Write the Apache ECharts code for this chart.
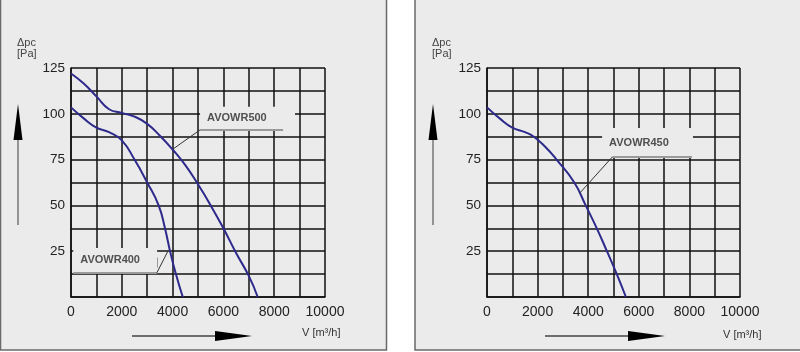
<!DOCTYPE html>
<html>
<head>
<meta charset="utf-8">
<script src="https://cdn.jsdelivr.net/npm/echarts@6/dist/echarts.min.js"></script>
<style>
  html, body { margin: 0; padding: 0; background: #fff; }
  #main { width: 800px; height: 352px; }
</style>
</head>
<body>
<div id="main"></div>
<script>
// fan curves: V [m3/h] -> dpc [Pa]
const fan500Flow = [0, 500, 1000, 1500, 2000, 2500, 3000, 3500, 4000, 4500, 5000, 5500, 6000, 6500, 7000, 7350];
const fan500Pressure = [122, 116.5, 109.5, 102.5, 100.5, 98.5, 94.5, 88, 80.5, 72, 61.5, 50, 37.5, 24, 11.5, 0];

const fan400Flow = [0, 500, 1000, 1500, 2000, 2500, 3000, 3450, 3700, 3900, 4130, 4400];
const fan400Pressure = [103.5, 97.5, 92.5, 90, 85.5, 75, 62.5, 50, 37.5, 25, 12.5, 0];

const fan450Flow = [0, 500, 1000, 1500, 1850, 2300, 2750, 3450, 3900, 4340, 4740, 5130, 5490];
const fan450Pressure = [103.5, 97.5, 92.5, 90, 87.5, 82, 75, 62.5, 50, 37.5, 25, 12.5, 0];

const xTicks = [0, 2000, 4000, 6000, 8000, 10000];
const yTicks = [25, 50, 75, 100, 125];

const bg = '#ebebeb';
const curveColor = '#2e2a8c';
const fontFamily = '"Liberation Sans", Arial, sans-serif';

function pairs(xs, ys) {
  return xs.map((x, i) => [x, ys[i]]);
}

function xAxisFor(idx) {
  return {
    gridIndex: idx, type: 'value', min: 0, max: 10000, interval: 1000,
    axisLine: { show: true, lineStyle: { color: '#111', width: 1.5 } },
    axisTick: { show: false },
    splitLine: { show: true, lineStyle: { color: '#111', width: 1.5 } },
    axisLabel: {
      color: '#222', fontSize: 14, fontFamily: fontFamily, margin: 8,
      formatter: v => xTicks.includes(v) ? String(v) : ''
    }
  };
}

function yAxisFor(idx) {
  return {
    gridIndex: idx, type: 'value', min: 0, max: 125, interval: 12.5,
    axisLine: { show: true, lineStyle: { color: '#111', width: 1.5 } },
    axisTick: { show: false },
    splitLine: { show: true, lineStyle: { color: '#111', width: 1.5 } },
    axisLabel: {
      color: '#222', fontSize: 13.5, fontFamily: fontFamily, margin: 6,
      formatter: v => yTicks.includes(v) ? String(v) : ''
    }
  };
}

// label box: masks the grid, grey underline + thin leader to the curve
function labelBox(name, box, underline, leader, extra) {
  const lines = [
    [{ coord: underline[0], lineStyle: { color: '#9a9a9a', width: 2, type: 'solid' } }, { coord: underline[1] }],
    [{ coord: leader[0], lineStyle: { color: '#333', width: 1, type: 'solid' } }, { coord: leader[1] }]
  ];
  (extra || []).forEach(e => lines.push([{ coord: e[0], lineStyle: { color: '#999', width: 1, type: 'solid' } }, { coord: e[1] }]));
  return {
    markArea: {
      silent: true,
      itemStyle: { color: bg },
      label: {
        show: true, position: 'insideLeft', distance: 7,
        color: '#505050', fontSize: 11, fontWeight: 'bold', fontFamily: fontFamily
      },
      data: [[{ name: name, coord: box[0] }, { coord: box[1] }]]
    },
    markLine: {
      silent: true, symbol: 'none', animation: false,
      label: { show: false },
      lineStyle: { type: 'solid' },
      data: lines
    }
  };
}

function curve(name, idx, xs, ys, ann) {
  return Object.assign({
    name: name, type: 'line', xAxisIndex: idx, yAxisIndex: idx,
    data: pairs(xs, ys), smooth: 0.5, showSymbol: false,
    lineStyle: { color: curveColor, width: 2 }, z: 3
  }, ann || {});
}

function arrowTexts(x0) {
  return [
    { type: 'text', left: x0 + 17, top: 37, style: { text: 'Δpc', fill: '#444', font: '11px ' + fontFamily } },
    { type: 'text', left: x0 + 17, top: 48, style: { text: '[Pa]', fill: '#444', font: '11px ' + fontFamily } },
    { type: 'line', shape: { x1: x0 + 18, y1: 225, x2: x0 + 18, y2: 138 }, style: { stroke: '#777', lineWidth: 1.5 } },
    { type: 'polygon', shape: { points: [[x0 + 18, 104], [x0 + 22.5, 140], [x0 + 13.5, 140]] }, style: { fill: '#000' } }
  ];
}

const chart = echarts.init(document.getElementById('main'));

chart.setOption({
  backgroundColor: '#fff',
  animation: false,
  graphic: [
    { type: 'rect', shape: { x: 0.5, y: -5, width: 386, height: 355 }, style: { fill: bg, stroke: '#6a6a6a', lineWidth: 1.5 }, z: -10 },
    { type: 'rect', shape: { x: 415, y: -5, width: 390, height: 355 }, style: { fill: bg, stroke: '#6a6a6a', lineWidth: 1.5 }, z: -10 },
    ...arrowTexts(0),
    ...arrowTexts(415),
    { type: 'line', shape: { x1: 132, y1: 336, x2: 216, y2: 336 }, style: { stroke: '#444', lineWidth: 1.5 } },
    { type: 'polygon', shape: { points: [[252, 336], [215, 331], [215, 341]] }, style: { fill: '#000' } },
    { type: 'text', left: 302, top: 327, style: { text: 'V [m³/h]', fill: '#333', font: '11px ' + fontFamily } },
    { type: 'line', shape: { x1: 545, y1: 336, x2: 630, y2: 336 }, style: { stroke: '#444', lineWidth: 1.5 } },
    { type: 'polygon', shape: { points: [[665, 336], [628, 331], [628, 341]] }, style: { fill: '#000' } },
    { type: 'text', left: 723, top: 329, style: { text: 'V [m³/h]', fill: '#333', font: '11px ' + fontFamily } }
  ],
  grid: [
    { left: 71, top: 68, width: 254, height: 229 },
    { left: 487, top: 68, width: 253, height: 229 }
  ],
  xAxis: [xAxisFor(0), xAxisFor(1)],
  yAxis: [yAxisFor(0), yAxisFor(1)],
  series: [
    curve('AVOWR500', 0, fan500Flow, fan500Pressure,
      labelBox('AVOWR500', [[5080, 103.8], [8820, 91.2]], [[5080, 91.2], [8350, 91.2]], [[5080, 91.2], [4000, 80.6]])),
    curve('AVOWR400', 0, fan400Flow, fan400Pressure,
      labelBox('AVOWR400', [[90, 26.8], [3390, 13.2]], [[90, 13.2], [3390, 13.2]], [[3380, 13.2], [3830, 25.4]],
        [[[3390, 21.5], [3390, 16]]])),
    curve('AVOWR450', 1, fan450Flow, fan450Pressure,
      labelBox('AVOWR450', [[4550, 92.2], [8140, 76]], [[4950, 76.4], [8100, 76.4]], [[4950, 76.4], [3660, 56.6]]))
  ]
});
</script>
</body>
</html>
